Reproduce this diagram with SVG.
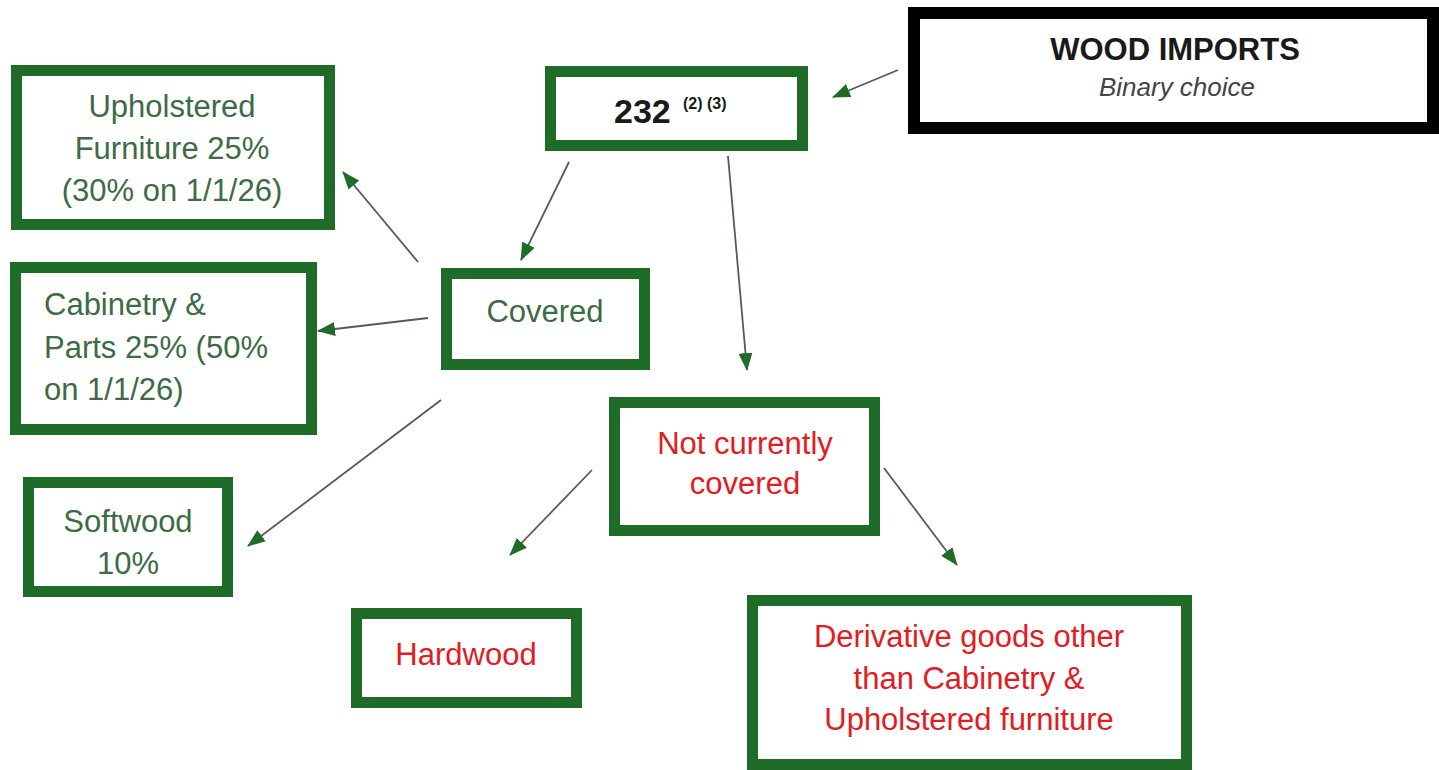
<svg xmlns="http://www.w3.org/2000/svg" width="1439" height="770" viewBox="0 0 1439 770">
<style>
.box{fill:#ffffff;stroke:#1f6b28;stroke-width:11}
.bbox{fill:#ffffff;stroke:#000000;stroke-width:12}
text{font-family:"Liberation Sans",Arial,sans-serif;font-size:31px}
.g{fill:#3d6b45;text-anchor:middle}
.gl{fill:#3d6b45}
.r{fill:#e31b23;text-anchor:middle}
.title{font-weight:bold;font-size:31px;fill:#1a1a1a;text-anchor:middle}
.sub{font-style:italic;font-size:26px;fill:#444444;text-anchor:middle}
.num{font-weight:bold;font-size:34px;fill:#1a1a1a}
.sup{font-weight:bold;font-size:16px;fill:#1a1a1a}
.conn line{stroke:#555b55;stroke-width:1.8;fill:none}
</style>
<defs>
<marker id="ah" viewBox="0 0 18 14" markerWidth="18" markerHeight="14" refX="17" refY="7" orient="auto" markerUnits="userSpaceOnUse">
<path d="M0,0 L18,7 L0,14 z" fill="#1f6b28"/>
</marker>
</defs>
<rect width="1439" height="770" fill="#ffffff"/>
<g class="conn">
<line x1="898" y1="70" x2="833" y2="97" marker-end="url(#ah)"/>
<line x1="569" y1="162" x2="521" y2="260" marker-end="url(#ah)"/>
<line x1="728" y1="156" x2="747" y2="370" marker-end="url(#ah)"/>
<line x1="418" y1="262" x2="343" y2="172" marker-end="url(#ah)"/>
<line x1="428" y1="318" x2="318" y2="331" marker-end="url(#ah)"/>
<line x1="441" y1="400" x2="248" y2="546" marker-end="url(#ah)"/>
<line x1="592" y1="470" x2="510" y2="555" marker-end="url(#ah)"/>
<line x1="884" y1="468" x2="957" y2="565" marker-end="url(#ah)"/>
</g>
<g id="wood-imports">
<rect class="bbox" x="914" y="13" width="519" height="115"/>
<text class="title" x="1175" y="60">WOOD IMPORTS</text>
<text class="sub" x="1177" y="96">Binary choice</text>
</g>
<g id="n232">
<rect class="box" x="550.5" y="71.5" width="252" height="74"/>
<text class="num" x="614" y="123">232</text>
<text class="sup" x="683" y="109">(2) (3)</text>
</g>
<g id="upholstered">
<rect class="box" x="16.5" y="70.5" width="313" height="154"/>
<text class="g" x="172" y="117">Upholstered</text>
<text class="g" x="172" y="159">Furniture 25%</text>
<text class="g" x="172" y="201">(30% on 1/1/26)</text>
</g>
<g id="cabinetry">
<rect class="box" x="15.5" y="267.5" width="296" height="162"/>
<text class="gl" x="44" y="315">Cabinetry &amp;</text>
<text class="gl" x="44" y="358">Parts 25% (50%</text>
<text class="gl" x="44" y="400">on 1/1/26)</text>
</g>
<g id="covered">
<rect class="box" x="446.5" y="273.5" width="198" height="91"/>
<text class="g" x="545" y="322">Covered</text>
</g>
<g id="softwood">
<rect class="box" x="28.5" y="482.5" width="199" height="109"/>
<text class="g" x="128" y="532">Softwood</text>
<text class="g" x="128" y="574">10%</text>
</g>
<g id="not-covered">
<rect class="box" x="614.5" y="402.5" width="260" height="128"/>
<text class="r" x="745" y="454">Not currently</text>
<text class="r" x="745" y="494">covered</text>
</g>
<g id="hardwood">
<rect class="box" x="356.5" y="613.5" width="220" height="89"/>
<text class="r" x="466" y="665">Hardwood</text>
</g>
<g id="derivative">
<rect class="box" x="752.5" y="600.5" width="434" height="164"/>
<text class="r" x="969" y="647">Derivative goods other</text>
<text class="r" x="969" y="689">than Cabinetry &amp;</text>
<text class="r" x="969" y="730">Upholstered furniture</text>
</g>
</svg>
